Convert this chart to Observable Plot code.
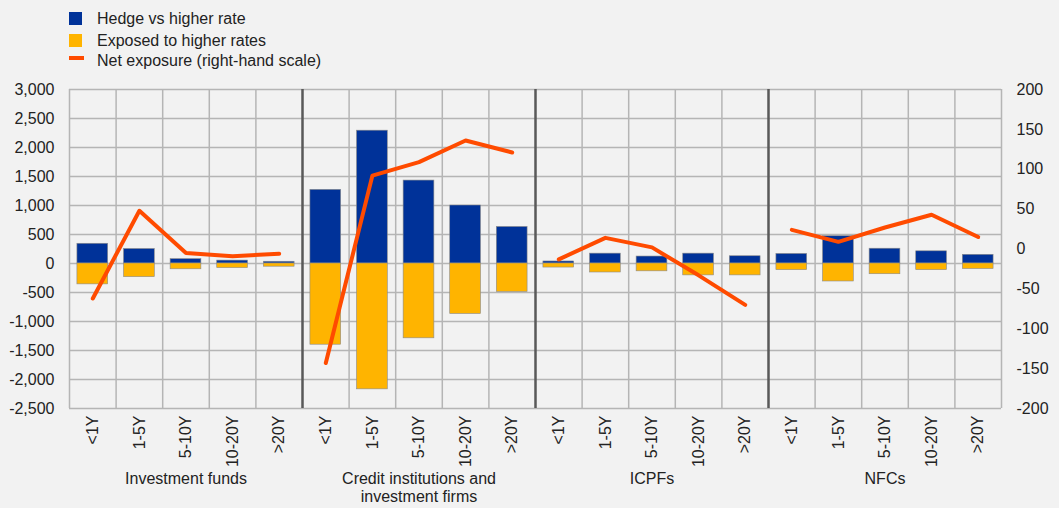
<!DOCTYPE html>
<html>
<head>
<meta charset="utf-8">
<script src="https://cdn.jsdelivr.net/npm/d3@7"></script>
<script src="https://cdn.jsdelivr.net/npm/@observablehq/plot@0.6"></script>
<style>
  html, body { margin: 0; padding: 0; background: #f2f2f2; }
  body { width: 1059px; height: 508px; overflow: hidden; font-family: "Liberation Sans", Arial, sans-serif; color: #222; }
  #legend { position: relative; height: 78px; font-size: 16px; }
  .item { position: absolute; left: 97px; line-height: 18px; white-space: nowrap; }
  .sw { position: absolute; left: 69px; }
</style>
</head>
<body>
<div id="legend"></div>
<div id="chart"></div>
<script>
// ---- data ----
const groups = ["Investment funds", "Credit institutions and\ninvestment firms", "ICPFs", "NFCs"];
const maturities = ["<1Y", "1-5Y", "5-10Y", "10-20Y", ">20Y"];
const seriesNames = ["Hedge vs higher rate", "Exposed to higher rates", "Net exposure (right-hand scale)"];
// Hedge vs higher rate (left scale)
const hedge = [340, 250, 75, 50, 30,
               1270, 2290, 1430, 1000, 630,
               35, 170, 120, 170, 125,
               165, 470, 255, 210, 150];
// Exposed to higher rates (left scale)
const exposed = [-360, -235, -100, -80, -55,
                 -1400, -2170, -1290, -870, -490,
                 -70, -155, -135, -205, -205,
                 -115, -310, -185, -115, -95];
// Net exposure (right-hand scale)
const net = [-62, 48, -5, -9, -6,
             -143, 92, 109, 136, 121,
             -13, 14, 2, -33, -70,
             24, 9, 27, 43, 15];
const leftTicks = [-2500, -2000, -1500, -1000, -500, 0, 500, 1000, 1500, 2000, 2500, 3000];
const rightTicks = [-200, -150, -100, -50, 0, 50, 100, 150, 200];

// ---- colours ----
const cHedge = "#003299", cExp = "#ffb400", cNet = "#ff4b00";

// ---- legend ----
const legend = document.getElementById("legend");
legend.innerHTML = `
  <div class="sw" style="top:12px;width:13px;height:13px;background:${cHedge}"></div>
  <div class="item" style="top:10px">${seriesNames[0]}</div>
  <div class="sw" style="top:34px;width:13px;height:13px;background:${cExp}"></div>
  <div class="item" style="top:32px">${seriesNames[1]}</div>
  <div class="sw" style="top:56px;width:15px;height:4px;background:${cNet}"></div>
  <div class="item" style="top:52px">${seriesNames[2]}</div>`;

// ---- tables ----
const rows = [];
groups.forEach((g, gi) => maturities.forEach((m, mi) => {
  const i = gi * 5 + mi;
  rows.push({i, group: g, maturity: m, hedge: hedge[i], exposed: exposed[i], net: net[i]});
}));

// right scale mapped onto left: 200 -> 3000, -200 -> -2500
const toLeft = v => 250 + v * 13.75;
const fromLeft = y => Math.round((y - 250) / 13.75);
const fmt = d => d3.format(",")(d).replace("\u2212", "-");

const pad = 0.17;
const chart = Plot.plot({
  width: 1059,
  height: 430,
  marginTop: 11,
  marginBottom: 100,
  marginLeft: 69,
  marginRight: 58,
  style: {background: "#f2f2f2", fontFamily: "Liberation Sans, Arial, sans-serif", fontSize: "16px", color: "#222"},
  x: {domain: [0, 20], axis: null},
  y: {domain: [-2500, 3000], axis: null},
  marks: [
    // grid
    Plot.ruleY(leftTicks, {stroke: "#b5b5b5", strokeWidth: 1.5}),
    Plot.ruleX(d3.range(0, 21).filter(d => d % 5 !== 0 || d === 0 || d === 20), {stroke: "#b5b5b5", strokeWidth: 1.5}),
    // bars
    Plot.rectY(rows, {x1: d => d.i + pad, x2: d => d.i + 1 - pad, y1: 0, y2: "hedge", fill: cHedge, stroke: "#8a8a8a", strokeWidth: 0.6}),
    Plot.rectY(rows, {x1: d => d.i + pad, x2: d => d.i + 1 - pad, y1: 0, y2: "exposed", fill: cExp, stroke: "#8a8a8a", strokeWidth: 0.6}),
    // group separators
    Plot.ruleX([5, 10, 15], {stroke: "#595959", strokeWidth: 2.5}),
    // net exposure line
    Plot.line(rows, {x: d => d.i + 0.5, y: d => toLeft(d.net), z: "group", stroke: cNet, strokeWidth: 4, strokeLinejoin: "round", strokeLinecap: "round"}),
    // axes
    Plot.axisY({anchor: "left", ticks: leftTicks, tickFormat: fmt, tickSize: 0, tickPadding: 15, label: null}),
    Plot.axisY({anchor: "right", ticks: rightTicks.map(toLeft), tickFormat: y => fmt(fromLeft(y)), tickSize: 0, tickPadding: 15, textAnchor: "start", label: null}),
    Plot.axisX({ticks: d3.range(20).map(i => i + 0.5), tickFormat: d => maturities[Math.floor(d) % 5], tickRotate: -90, tickSize: 0, tickPadding: 7, label: null}),
    // group labels
    Plot.text(groups.map((g, gi) => ({g, c: gi * 5 + 2.5})), {x: "c", text: "g", frameAnchor: "bottom", lineAnchor: "top", dy: 62, lineHeight: 1.15, fill: "#222"})
  ]
});
document.getElementById("chart").appendChild(chart);
</script>
</body>
</html>
